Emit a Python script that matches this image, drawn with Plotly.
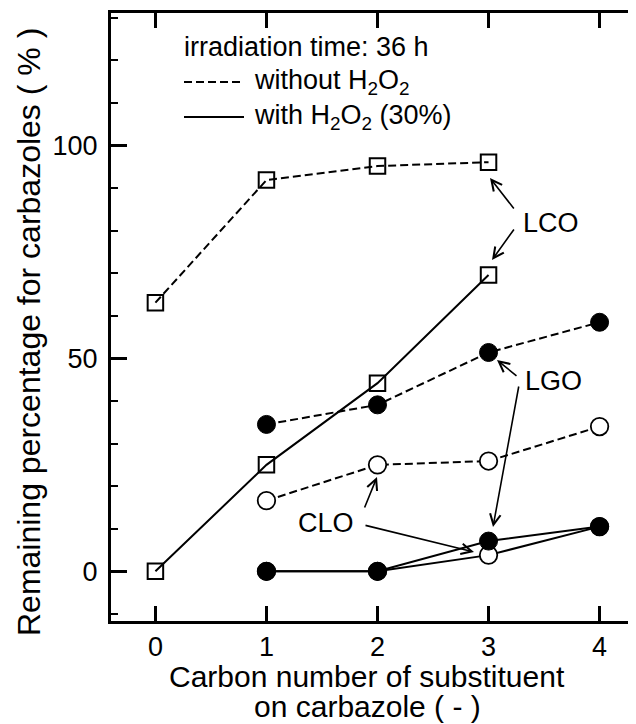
import plotly.graph_objects as go

# ---- data ----
lco_without_x = [0, 1, 2, 3]
lco_without = [63.1, 91.9, 95.2, 96.1]
lco_with_x = [0, 1, 2, 3]
lco_with = [0.0, 25.0, 44.2, 69.6]
lgo_without_x = [1, 2, 3, 4]
lgo_without = [34.5, 39.1, 51.4, 58.5]
clo_without_x = [1, 2, 3, 4]
clo_without = [16.6, 25.0, 25.9, 34.0]
lgo_with_x = [1, 2, 3, 4]
lgo_with = [0.0, 0.0, 7.1, 10.5]
clo_with_x = [1, 2, 3, 4]
clo_with = [0.0, 0.0, 3.8, 10.5]
x_ticks = [0, 1, 2, 3, 4]
y_ticks = [0, 50, 100]

FONT = "Arial, Liberation Sans, Helvetica, sans-serif"
W, H = 636, 724
OFF = 8                      # page body margin offset
ML, MR, MT, MB = 103, 0, 5, 111
X0, X1 = -0.4, 4.4
XS = (W - ML - MR) / (X1 - X0)
K = 4.257                    # px per y unit
YZ = 571.3 - OFF             # figure row of y = 0
Y0 = -((H - MB) - YZ) / K
Y1 = (YZ - MT) / K


def px(xp):                  # page pixel -> paper x
    return (xp - OFF - ML) / (W - ML - MR)


def py(yp):                  # page pixel -> paper y
    return (H - MB - (yp - OFF)) / (H - MB - MT)


def dx(xp):                  # page pixel -> data x
    return X0 + (xp - OFF - ML) / XS


def dy(yp):                  # page pixel -> data y
    return (YZ - (yp - OFF)) / K


fig = go.Figure()

lw = 2
dash = "8px,4px"
sq = dict(symbol="square-open", size=15.5, color="black", line=dict(width=2, color="black"))
oc = dict(symbol="circle", size=17.5, color="white", line=dict(width=1.8, color="black"))
fc = dict(symbol="circle", size=18, color="black", line=dict(width=1, color="black"))

fig.add_trace(go.Scatter(x=lco_without_x, y=lco_without, mode="lines+markers",
                         line=dict(color="black", width=lw, dash=dash), marker=sq))
fig.add_trace(go.Scatter(x=lco_with_x, y=lco_with, mode="lines+markers",
                         line=dict(color="black", width=lw), marker=sq))
fig.add_trace(go.Scatter(x=clo_without_x, y=clo_without, mode="lines+markers",
                         line=dict(color="black", width=lw, dash=dash), marker=oc))
fig.add_trace(go.Scatter(x=lgo_without_x, y=lgo_without, mode="lines+markers",
                         line=dict(color="black", width=lw, dash=dash), marker=fc))
fig.add_trace(go.Scatter(x=clo_with_x, y=clo_with, mode="lines+markers",
                         line=dict(color="black", width=lw), marker=oc))
fig.add_trace(go.Scatter(x=lgo_with_x, y=lgo_with, mode="lines+markers",
                         line=dict(color="black", width=lw), marker=fc))

ann = []
LEG = 27
ann.append(dict(x=px(182), y=py(47), xref="paper", yref="paper", text="irradiation time: 36 h",
                showarrow=False, xanchor="left", yanchor="middle", font=dict(size=LEG)))
ann.append(dict(x=px(252), y=py(82), xref="paper", yref="paper",
                text="without H<sub>2</sub>O<sub>2</sub>",
                showarrow=False, xanchor="left", yanchor="middle", font=dict(size=LEG)))
ann.append(dict(x=px(252), y=py(117), xref="paper", yref="paper",
                text="with H<sub>2</sub>O<sub>2</sub> (30%)",
                showarrow=False, xanchor="left", yanchor="middle", font=dict(size=LEG)))

LAB = 27
ann.append(dict(x=dx(521), y=dy(223), xref="x", yref="y", text="LCO", showarrow=False,
                xanchor="left", yanchor="middle", font=dict(size=LAB)))
ann.append(dict(x=dx(523), y=dy(381), xref="x", yref="y", text="LGO", showarrow=False,
                xanchor="left", yanchor="middle", font=dict(size=LAB)))
ann.append(dict(x=dx(296), y=dy(523), xref="x", yref="y", text="CLO", showarrow=False,
                xanchor="left", yanchor="middle", font=dict(size=LAB)))

# axis titles
ann.append(dict(x=px(367), y=py(676), xref="paper", yref="paper",
                text="Carbon number of substituent", showarrow=False,
                xanchor="center", yanchor="middle", font=dict(size=30)))
ann.append(dict(x=px(367), y=py(706), xref="paper", yref="paper",
                text="on carbazole ( - )", showarrow=False,
                xanchor="center", yanchor="middle", font=dict(size=30)))
ann.append(dict(x=px(29), y=py(332), xref="paper", yref="paper",
                text="Remaining percentage for carbazoles ( % )", showarrow=False,
                textangle=-90, xanchor="center", yanchor="middle", font=dict(size=32)))

arrows = [
    ((515, 210), (490, 178)),
    ((515, 228), (492, 260)),
    ((518, 377), (497, 360)),
    ((519, 385), (493, 527)),
    ((364, 509), (377, 477)),
    ((364, 525), (474, 552)),
]
for (tx, ty), (hx, hy) in arrows:
    ann.append(dict(x=dx(hx), y=dy(hy), ax=dx(tx), ay=dy(ty), xref="x", yref="y",
                    axref="x", ayref="y", text="", showarrow=True, arrowhead=5,
                    arrowsize=1.3, arrowwidth=1.6, arrowcolor="black", standoff=0))

shapes = [
    dict(type="line", xref="paper", yref="paper", x0=px(184), x1=px(244), y0=py(82), y1=py(82),
         line=dict(color="black", width=2, dash="8px,4px")),
    dict(type="line", xref="paper", yref="paper", x0=px(184), x1=px(244), y0=py(117), y1=py(117),
         line=dict(color="black", width=2)),
]

fig.update_layout(
    width=W, height=H,
    margin=dict(l=ML, r=MR, t=MT, b=MB, pad=0, autoexpand=False),
    paper_bgcolor="white", plot_bgcolor="white",
    showlegend=False,
    font=dict(family=FONT, color="black", size=26),
    annotations=ann, shapes=shapes,
    xaxis=dict(range=[X0, X1], tickvals=x_ticks, ticktext=[str(v) for v in x_ticks],
               ticks="inside", ticklen=15, tickwidth=2.5, tickcolor="black",
               showline=True, linewidth=3, linecolor="black", mirror="ticks",
               showgrid=False, zeroline=False, tickfont=dict(size=27)),
    yaxis=dict(range=[Y0, Y1], tickvals=y_ticks, ticks="inside", ticklen=16, tickwidth=2.5,
               tickcolor="black", showline=True, linewidth=3, linecolor="black",
               mirror="ticks", showgrid=False, zeroline=False, tickfont=dict(size=27),
               ticklabelstandoff=5,
               minor=dict(dtick=10, tick0=0, ticks="inside", ticklen=7, tickwidth=2,
                          tickcolor="black", showgrid=False)),
)

fig.write_html("out.html")
